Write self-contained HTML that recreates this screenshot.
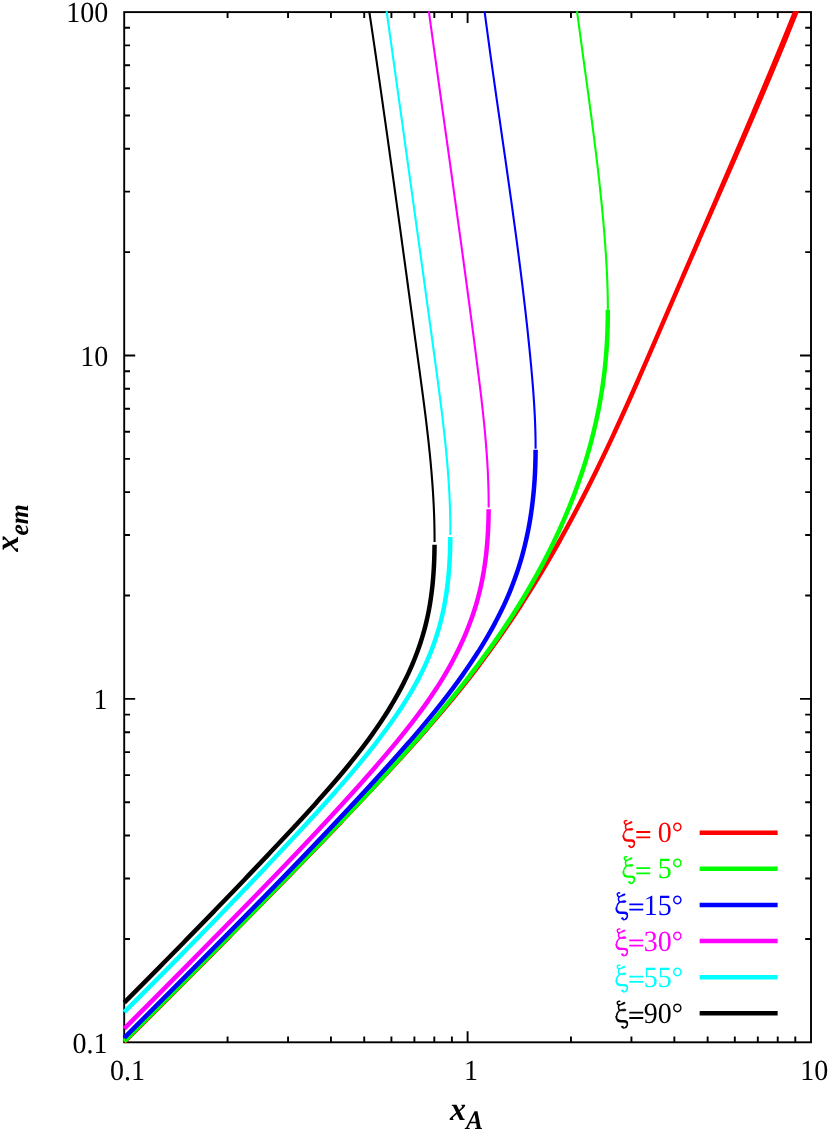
<!DOCTYPE html>
<html>
<head>
<meta charset="utf-8">
<title>x_em vs x_A</title>
<style>
html,body{margin:0;padding:0;background:#fff;}
body{width:830px;height:1131px;overflow:hidden;}
svg{display:block;will-change:transform;}
text{font-family:"Liberation Serif",serif;font-size:28px;fill:#000;text-rendering:geometricPrecision;}
text.ax{font-weight:bold;font-style:italic;font-size:32px;}
</style>
</head>
<body>
<svg width="830" height="1131" viewBox="0 0 830 1131">
<rect width="830" height="1131" fill="#ffffff"/>
<g stroke="#000" stroke-width="1.9" fill="none" stroke-linecap="butt" stroke-linejoin="miter"><rect x="124.2" y="12.1" width="686.8" height="1030.2" fill="none"/><path d="M227.57,1042.3v-5.8M227.57,12.1v5.8M288.04,1042.3v-5.8M288.04,12.1v5.8M330.95,1042.3v-5.8M330.95,12.1v5.8M364.23,1042.3v-5.8M364.23,12.1v5.8M391.42,1042.3v-5.8M391.42,12.1v5.8M414.41,1042.3v-5.8M414.41,12.1v5.8M434.32,1042.3v-5.8M434.32,12.1v5.8M451.89,1042.3v-5.8M451.89,12.1v5.8M467.6,1042.3v-11.0M467.6,12.1v11.0M570.97,1042.3v-5.8M570.97,12.1v5.8M631.44,1042.3v-5.8M631.44,12.1v5.8M674.35,1042.3v-5.8M674.35,12.1v5.8M707.63,1042.3v-5.8M707.63,12.1v5.8M734.82,1042.3v-5.8M734.82,12.1v5.8M757.81,1042.3v-5.8M757.81,12.1v5.8M777.72,1042.3v-5.8M777.72,12.1v5.8M795.29,1042.3v-5.8M795.29,12.1v5.8M124.2,938.93h5.8M811,938.93h-5.8M124.2,878.46h5.8M811,878.46h-5.8M124.2,835.55h5.8M811,835.55h-5.8M124.2,802.27h5.8M811,802.27h-5.8M124.2,775.08h5.8M811,775.08h-5.8M124.2,752.09h5.8M811,752.09h-5.8M124.2,732.18h5.8M811,732.18h-5.8M124.2,714.61h5.8M811,714.61h-5.8M124.2,698.9h11.0M811,698.9h-11.0M124.2,595.53h5.8M811,595.53h-5.8M124.2,535.06h5.8M811,535.06h-5.8M124.2,492.15h5.8M811,492.15h-5.8M124.2,458.87h5.8M811,458.87h-5.8M124.2,431.68h5.8M811,431.68h-5.8M124.2,408.69h5.8M811,408.69h-5.8M124.2,388.78h5.8M811,388.78h-5.8M124.2,371.21h5.8M811,371.21h-5.8M124.2,355.5h11.0M811,355.5h-11.0M124.2,252.13h5.8M811,252.13h-5.8M124.2,191.66h5.8M811,191.66h-5.8M124.2,148.75h5.8M811,148.75h-5.8M124.2,115.47h5.8M811,115.47h-5.8M124.2,88.28h5.8M811,88.28h-5.8M124.2,65.29h5.8M811,65.29h-5.8M124.2,45.38h5.8M811,45.38h-5.8M124.2,27.81h5.8M811,27.81h-5.8"/></g>
<defs><clipPath id="cl"><rect x="116.2" y="11.15" width="702.8" height="1040.2"/></clipPath></defs>
<g clip-path="url(#cl)">
<path d="M799.95,9.06 L798.75,12.06 L797.54,15.07 L796.33,18.08 L795.12,21.09 L793.91,24.10 L792.69,27.10 L791.47,30.11 L790.25,33.12 L789.02,36.13 L787.80,39.14 L786.57,42.14 L785.33,45.15 L784.10,48.16 L782.86,51.17 L781.62,54.17 L780.37,57.18 L779.13,60.19 L777.88,63.20 L776.62,66.20 L775.36,69.21 L774.10,72.21 L772.84,75.22 L771.58,78.22 L770.31,81.23 L769.04,84.23 L767.77,87.24 L766.50,90.24 L765.22,93.24 L763.95,96.25 L762.67,99.25 L761.39,102.26 L760.10,105.26 L758.82,108.27 L757.54,111.27 L756.25,114.28 L754.96,117.28 L753.67,120.28 L752.38,123.29 L751.09,126.29 L749.79,129.30 L748.50,132.30 L747.20,135.30 L745.89,138.31 L744.59,141.31 L743.29,144.31 L741.98,147.31 L740.67,150.32 L739.37,153.32 L738.06,156.32 L736.75,159.32 L735.44,162.32 L734.13,165.33 L732.81,168.33 L731.50,171.33 L730.19,174.33 L728.87,177.33 L727.56,180.34 L726.24,183.34 L724.92,186.34 L723.61,189.34 L722.29,192.34 L720.97,195.35 L719.65,198.35 L718.33,201.35 L717.02,204.35 L715.70,207.35 L714.38,210.36 L713.06,213.36 L711.74,216.36 L710.42,219.36 L709.10,222.36 L707.78,225.37 L706.46,228.37 L705.14,231.37 L703.82,234.37 L702.50,237.37 L701.18,240.37 L699.86,243.38 L698.54,246.38 L697.22,249.38 L695.91,252.38 L694.59,255.38 L693.27,258.38 L691.96,261.39 L690.65,264.39 L689.34,267.40 L688.04,270.40 L686.73,273.41 L685.42,276.41 L684.12,279.42 L682.82,282.42 L681.51,285.43 L680.21,288.43 L678.91,291.44 L677.61,294.45 L676.31,297.45 L675.01,300.46 L673.72,303.46 L672.42,306.47 L671.12,309.47 L669.83,312.48 L668.54,315.48 L667.24,318.49 L665.95,321.49 L664.65,324.50 L663.36,327.51 L662.06,330.51 L660.77,333.52 L659.47,336.52 L658.18,339.53 L656.88,342.54 L655.58,345.54 L654.28,348.55 L652.98,351.56 L651.68,354.56 L650.38,357.57 L649.07,360.58 L647.77,363.58 L646.46,366.59 L645.14,369.60 L643.83,372.60 L642.51,375.61 L641.20,378.62 L639.87,381.63 L638.55,384.63 L637.22,387.64 L635.89,390.65 L634.56,393.66 L633.22,396.67 L631.88,399.67 L630.53,402.68 L629.18,405.69 L627.83,408.70 L626.47,411.71 L625.11,414.71 L623.74,417.72 L622.37,420.73 L621.00,423.74 L619.62,426.75 L618.23,429.76 L616.84,432.77 L615.44,435.77 L614.04,438.78 L612.63,441.79 L611.22,444.80 L609.80,447.81 L608.37,450.82 L606.94,453.83 L605.50,456.84 L604.06,459.85 L602.61,462.86 L601.15,465.87 L599.68,468.88 L598.21,471.89 L596.73,474.90 L595.24,477.91 L593.75,480.92 L592.25,483.93 L590.73,486.94 L589.22,489.95 L587.69,492.96 L586.15,495.97 L584.61,498.98 L583.06,501.99 L581.50,505.00 L579.93,508.01 L578.35,511.02 L576.76,514.03 L575.16,517.04 L573.55,520.05 L571.94,523.06 L570.31,526.07 L568.67,529.08 L567.03,532.09 L565.37,535.10 L563.70,538.12 L562.03,541.13 L560.34,544.14 L558.64,547.15 L556.93,550.16 L555.21,553.17 L553.47,556.18 L551.73,559.19 L549.98,562.21 L548.21,565.22 L546.43,568.23 L544.64,571.24 L542.84,574.25 L541.02,577.26 L539.19,580.27 L537.35,583.29 L535.50,586.30 L533.63,589.31 L531.75,592.32 L529.86,595.33 L527.96,598.35 L526.04,601.36 L524.11,604.37 L522.16,607.38 L520.20,610.39 L518.23,613.41 L516.24,616.42 L514.23,619.43 L512.21,622.44 L510.18,625.45 L508.13,628.47 L506.07,631.48 L503.99,634.49 L501.89,637.50 L499.78,640.52 L497.65,643.53 L495.51,646.54 L493.35,649.55 L491.17,652.57 L488.97,655.58 L486.76,658.59 L484.53,661.60 L482.28,664.62 L480.02,667.63 L477.73,670.64 L475.43,673.65 L473.11,676.67 L470.77,679.68 L468.41,682.69 L466.03,685.71 L463.63,688.72 L461.21,691.73 L458.78,694.74 L456.32,697.76 L453.85,700.77 L451.35,703.78 L448.84,706.79 L446.32,709.80 L443.77,712.82 L441.21,715.83 L438.63,718.84 L436.04,721.85 L433.44,724.86 L430.82,727.87 L428.18,730.88 L425.53,733.89 L422.87,736.90 L420.20,739.91 L417.52,742.92 L414.82,745.93 L412.11,748.94 L409.39,751.95 L406.67,754.95 L403.93,757.96 L401.18,760.97 L398.43,763.98 L395.66,766.99 L392.89,770.00 L390.12,773.00 L387.33,776.01 L384.54,779.02 L381.74,782.03 L378.94,785.03 L376.14,788.04 L373.32,791.05 L370.51,794.06 L367.68,797.06 L364.86,800.07 L362.02,803.08 L359.19,806.09 L356.35,809.09 L353.50,812.10 L350.65,815.11 L347.79,818.11 L344.93,821.12 L342.07,824.13 L339.20,827.14 L336.33,830.14 L333.45,833.15 L330.57,836.16 L327.68,839.16 L324.79,842.17 L321.90,845.18 L319.00,848.18 L316.10,851.19 L313.20,854.20 L310.29,857.20 L307.38,860.21 L304.47,863.22 L301.55,866.22 L298.63,869.23 L295.70,872.24 L292.78,875.24 L289.85,878.25 L286.91,881.26 L283.98,884.26 L281.04,887.27 L278.10,890.28 L275.15,893.28 L272.21,896.29 L269.26,899.30 L266.31,902.30 L263.36,905.31 L260.40,908.32 L257.44,911.32 L254.48,914.33 L251.52,917.34 L248.56,920.34 L245.59,923.35 L242.62,926.35 L239.66,929.36 L236.69,932.37 L233.71,935.37 L230.74,938.38 L227.77,941.39 L224.79,944.39 L221.81,947.40 L218.83,950.40 L215.85,953.41 L212.87,956.42 L209.89,959.42 L206.91,962.43 L203.93,965.43 L200.94,968.44 L197.96,971.45 L194.97,974.45 L191.99,977.46 L189.00,980.46 L186.01,983.47 L183.02,986.48 L180.03,989.48 L177.03,992.49 L174.04,995.50 L171.04,998.50 L168.04,1001.51 L165.04,1004.51 L162.03,1007.52 L159.03,1010.53 L156.02,1013.53 L153.01,1016.54 L149.99,1019.55 L146.98,1022.55 L143.96,1025.56 L140.94,1028.57 L137.92,1031.57 L134.89,1034.58 L131.86,1037.59 L128.83,1040.59 L125.79,1043.60 L122.63,1040.40 L125.66,1037.40 L128.69,1034.39 L131.72,1031.39 L134.75,1028.38 L137.77,1025.38 L140.79,1022.37 L143.80,1019.37 L146.82,1016.36 L149.83,1013.36 L152.84,1010.35 L155.84,1007.34 L158.85,1004.34 L161.85,1001.33 L164.85,998.33 L167.85,995.32 L170.85,992.32 L173.84,989.31 L176.84,986.31 L179.83,983.30 L182.82,980.30 L185.81,977.29 L188.80,974.29 L191.78,971.28 L194.77,968.28 L197.75,965.27 L200.73,962.26 L203.72,959.26 L206.70,956.25 L209.68,953.25 L212.66,950.24 L215.64,947.24 L218.62,944.23 L221.59,941.23 L224.57,938.22 L227.54,935.21 L230.51,932.21 L233.48,929.20 L236.45,926.20 L239.42,923.19 L242.39,920.19 L245.35,917.18 L248.32,914.18 L251.28,911.17 L254.23,908.17 L257.19,905.16 L260.15,902.16 L263.10,899.15 L266.05,896.15 L268.99,893.14 L271.94,890.13 L274.88,887.13 L277.82,884.12 L280.76,881.12 L283.69,878.11 L286.62,875.11 L289.55,872.10 L292.48,869.10 L295.40,866.09 L298.32,863.09 L301.24,860.08 L304.15,857.08 L307.06,854.07 L309.96,851.07 L312.86,848.07 L315.76,845.06 L318.66,842.06 L321.55,839.05 L324.44,836.05 L327.32,833.04 L330.20,830.04 L333.07,827.03 L335.94,824.03 L338.81,821.02 L341.67,818.02 L344.53,815.01 L347.38,812.01 L350.23,809.00 L353.08,806.00 L355.92,803.00 L358.75,799.99 L361.58,796.99 L364.40,793.98 L367.22,790.98 L370.04,787.97 L372.85,784.97 L375.65,781.97 L378.45,778.96 L381.24,775.96 L384.03,772.95 L386.81,769.95 L389.59,766.95 L392.35,763.94 L395.11,760.94 L397.86,757.94 L400.60,754.93 L403.33,751.93 L406.06,748.93 L408.77,745.92 L411.47,742.92 L414.16,739.92 L416.84,736.92 L419.51,733.91 L422.16,730.91 L424.80,727.91 L427.43,724.91 L430.04,721.91 L432.64,718.91 L435.22,715.91 L437.79,712.91 L440.34,709.91 L442.87,706.91 L445.39,703.91 L447.89,700.91 L450.38,697.91 L452.84,694.91 L455.28,691.91 L457.71,688.91 L460.12,685.91 L462.50,682.91 L464.87,679.91 L467.22,676.91 L469.55,673.91 L471.86,670.92 L474.15,667.92 L476.42,664.92 L478.68,661.92 L480.92,658.92 L483.14,655.92 L485.34,652.92 L487.53,649.92 L489.70,646.92 L491.85,643.92 L493.98,640.93 L496.10,637.93 L498.20,634.93 L500.29,631.93 L502.36,628.93 L504.42,625.93 L506.46,622.93 L508.48,619.93 L510.49,616.93 L512.49,613.93 L514.47,610.93 L516.43,607.93 L518.38,604.93 L520.32,601.93 L522.25,598.93 L524.16,595.93 L526.06,592.93 L527.94,589.93 L529.81,586.93 L531.67,583.93 L533.52,580.93 L535.35,577.93 L537.17,574.93 L538.98,571.93 L540.77,568.93 L542.56,565.93 L544.33,562.93 L546.09,559.93 L547.84,556.93 L549.58,553.93 L551.30,550.93 L553.02,547.93 L554.72,544.93 L556.42,541.93 L558.10,538.93 L559.77,535.93 L561.43,532.93 L563.08,529.93 L564.72,526.93 L566.35,523.93 L567.98,520.93 L569.59,517.93 L571.19,514.93 L572.78,511.92 L574.36,508.92 L575.94,505.92 L577.50,502.92 L579.06,499.92 L580.61,496.92 L582.15,493.92 L583.68,490.92 L585.20,487.91 L586.71,484.91 L588.22,481.91 L589.72,478.91 L591.21,475.91 L592.69,472.91 L594.17,469.90 L595.64,466.90 L597.10,463.90 L598.56,460.90 L600.00,457.90 L601.45,454.89 L602.88,451.89 L604.31,448.89 L605.73,445.89 L607.15,442.88 L608.56,439.88 L609.96,436.88 L611.36,433.88 L612.76,430.87 L614.15,427.87 L615.53,424.87 L616.91,421.87 L618.28,418.86 L619.65,415.86 L621.01,412.86 L622.37,409.85 L623.73,406.85 L625.08,403.85 L626.43,400.84 L627.77,397.84 L629.11,394.83 L630.44,391.83 L631.78,388.83 L633.11,385.82 L634.43,382.82 L635.75,379.81 L637.08,376.81 L638.39,373.81 L639.71,370.80 L641.02,367.80 L642.33,364.79 L643.64,361.79 L644.95,358.78 L646.25,355.78 L647.55,352.77 L648.85,349.77 L650.15,346.76 L651.45,343.76 L652.75,340.75 L654.05,337.75 L655.34,334.74 L656.64,331.74 L657.93,328.73 L659.23,325.73 L660.52,322.72 L661.81,319.71 L663.11,316.71 L664.40,313.70 L665.70,310.70 L666.99,307.69 L668.29,304.68 L669.58,301.68 L670.88,298.67 L672.18,295.67 L673.48,292.66 L674.78,289.65 L676.08,286.65 L677.38,283.64 L678.69,280.63 L679.99,277.63 L681.30,274.62 L682.60,271.62 L683.91,268.61 L685.21,265.60 L686.52,262.60 L687.83,259.59 L689.13,256.58 L690.43,253.57 L691.73,250.56 L693.03,247.55 L694.33,244.54 L695.63,241.53 L696.93,238.52 L698.23,235.51 L699.53,232.50 L700.83,229.49 L702.14,226.48 L703.44,223.47 L704.74,220.46 L706.04,217.45 L707.34,214.44 L708.64,211.43 L709.94,208.42 L711.24,205.41 L712.54,202.40 L713.84,199.39 L715.14,196.38 L716.44,193.37 L717.74,190.36 L719.04,187.36 L720.33,184.35 L721.63,181.34 L722.93,178.33 L724.22,175.32 L725.52,172.31 L726.81,169.30 L728.10,166.29 L729.40,163.28 L730.69,160.27 L731.98,157.26 L733.27,154.25 L734.55,151.24 L735.84,148.23 L737.13,145.22 L738.41,142.21 L739.70,139.20 L740.98,136.19 L742.26,133.18 L743.54,130.18 L744.82,127.17 L746.10,124.16 L747.38,121.15 L748.66,118.15 L749.94,115.14 L751.22,112.13 L752.49,109.12 L753.76,106.12 L755.03,103.11 L756.30,100.10 L757.57,97.10 L758.83,94.09 L760.10,91.08 L761.36,88.07 L762.62,85.07 L763.88,82.06 L765.13,79.05 L766.39,76.05 L767.64,73.04 L768.89,70.03 L770.13,67.03 L771.38,64.02 L772.62,61.01 L773.86,58.01 L775.11,55.00 L776.35,52.00 L777.59,49.00 L778.82,45.99 L780.06,42.99 L781.29,39.98 L782.52,36.98 L783.75,33.98 L784.97,30.97 L786.19,27.97 L787.41,24.96 L788.62,21.96 L789.84,18.96 L791.05,15.95 L792.25,12.95 L793.46,9.95 L794.66,6.94Z" fill="#ff0000" stroke="none"/>
<path d="M607.85,309.70 L607.84,312.71 L607.82,315.72 L607.78,318.73 L607.73,321.74 L607.66,324.75 L607.58,327.76 L607.49,330.77 L607.37,333.79 L607.24,336.80 L607.10,339.81 L606.93,342.82 L606.75,345.83 L606.56,348.84 L606.34,351.85 L606.11,354.86 L605.85,357.87 L605.58,360.88 L605.29,363.89 L604.98,366.90 L604.65,369.91 L604.31,372.92 L603.94,375.94 L603.55,378.95 L603.15,381.96 L602.73,384.97 L602.28,387.98 L601.82,390.99 L601.34,394.00 L600.84,397.01 L600.32,400.02 L599.78,403.03 L599.22,406.04 L598.64,409.05 L598.04,412.06 L597.43,415.07 L596.79,418.09 L596.14,421.10 L595.46,424.11 L594.77,427.12 L594.06,430.13 L593.33,433.14 L592.57,436.15 L591.80,439.16 L591.01,442.17 L590.20,445.18 L589.37,448.19 L588.52,451.20 L587.66,454.21 L586.77,457.22 L585.86,460.23 L584.94,463.25 L583.99,466.26 L583.02,469.27 L582.04,472.28 L581.03,475.29 L580.01,478.30 L578.97,481.31 L577.90,484.32 L576.82,487.33 L575.72,490.34 L574.60,493.35 L573.45,496.36 L572.29,499.37 L571.11,502.38 L569.91,505.40 L568.69,508.41 L567.45,511.42 L566.19,514.43 L564.91,517.44 L563.61,520.45 L562.29,523.46 L560.96,526.47 L559.60,529.48 L558.22,532.49 L556.82,535.50 L555.40,538.51 L553.97,541.52 L552.51,544.53 L551.03,547.55 L549.53,550.56 L548.02,553.57 L546.48,556.58 L544.92,559.59 L543.35,562.60 L541.75,565.61 L540.13,568.62 L538.50,571.63 L536.84,574.64 L535.17,577.65 L533.47,580.66 L531.75,583.67 L530.02,586.68 L528.26,589.70 L526.48,592.71 L524.69,595.72 L522.87,598.73 L521.03,601.74 L519.18,604.75 L517.30,607.76 L515.40,610.77 L513.49,613.78 L511.55,616.79 L509.59,619.80 L507.62,622.81 L505.62,625.82 L503.60,628.83 L501.56,631.84 L499.50,634.86 L497.43,637.87 L495.33,640.88 L493.21,643.89 L491.08,646.90 L488.92,649.91 L486.74,652.92 L484.55,655.93 L482.34,658.94 L480.11,661.95 L477.86,664.96 L475.59,667.97 L473.31,670.98 L471.01,673.99 L468.69,677.01 L466.35,680.02 L463.99,683.03 L461.62,686.04 L459.23,689.05 L456.83,692.06 L454.41,695.07 L451.97,698.08 L449.52,701.09 L447.05,704.10 L444.56,707.11 L442.06,710.12 L439.54,713.13 L437.01,716.14 L434.47,719.16 L431.91,722.17 L429.33,725.18 L426.74,728.19 L424.14,731.20 L421.52,734.21 L418.89,737.22 L416.25,740.23 L413.59,743.24 L410.92,746.25 L408.24,749.26 L405.55,752.27 L402.85,755.28 L400.13,758.29 L397.40,761.30 L394.67,764.32 L391.92,767.33 L389.16,770.34 L386.40,773.35 L383.62,776.36 L380.84,779.37 L378.04,782.38 L375.24,785.39 L372.43,788.40 L369.61,791.41 L366.79,794.42 L363.95,797.43 L361.11,800.44 L358.27,803.45 L355.41,806.47 L352.56,809.48 L349.69,812.49 L346.82,815.50 L343.95,818.51 L341.06,821.52 L338.18,824.53 L335.29,827.54 L332.40,830.55 L329.50,833.56 L326.60,836.57 L323.70,839.58 L320.79,842.59 L317.88,845.60 L314.97,848.62 L312.06,851.63 L309.14,854.64 L306.22,857.65 L303.30,860.66 L300.38,863.67 L297.45,866.68 L294.52,869.69 L291.59,872.70 L288.66,875.71 L285.72,878.72 L282.78,881.73 L279.84,884.74 L276.90,887.75 L273.95,890.77 L271.00,893.78 L268.05,896.79 L265.10,899.80 L262.15,902.81 L259.19,905.82 L256.23,908.83 L253.27,911.84 L250.30,914.85 L247.34,917.86 L244.37,920.87 L241.40,923.88 L238.43,926.89 L235.45,929.90 L232.48,932.91 L229.50,935.93 L226.52,938.94 L223.54,941.95 L220.55,944.96 L217.57,947.97 L214.58,950.98 L211.59,953.99 L208.60,957.00 L205.61,960.01 L202.61,963.02 L199.62,966.03 L196.62,969.04 L193.62,972.05 L190.62,975.06 L187.61,978.08 L184.61,981.09 L181.60,984.10 L178.59,987.11 L175.58,990.12 L172.57,993.13 L169.56,996.14 L166.54,999.15 L163.53,1002.16 L160.51,1005.17 L157.49,1008.18 L154.47,1011.19 L151.45,1014.20 L148.43,1017.21 L145.41,1020.23 L142.38,1023.24 L139.35,1026.25 L136.33,1029.26 L133.30,1032.27 L130.27,1035.28 L127.23,1038.29 L124.20,1041.30" fill="none" stroke="#00ff00" stroke-width="4.5"/>
<path d="M576.64,8.00 L577.03,11.02 L577.42,14.03 L577.82,17.05 L578.22,20.07 L578.62,23.09 L579.02,26.10 L579.42,29.12 L579.83,32.14 L580.23,35.15 L580.64,38.17 L581.05,41.19 L581.46,44.20 L581.87,47.22 L582.28,50.24 L582.69,53.25 L583.10,56.27 L583.51,59.29 L583.93,62.31 L584.34,65.32 L584.75,68.34 L585.17,71.36 L585.58,74.37 L585.99,77.39 L586.41,80.41 L586.82,83.42 L587.23,86.44 L587.64,89.46 L588.05,92.48 L588.46,95.49 L588.87,98.51 L589.28,101.53 L589.68,104.54 L590.09,107.56 L590.49,110.58 L590.90,113.59 L591.30,116.61 L591.69,119.63 L592.09,122.65 L592.49,125.66 L592.88,128.68 L593.27,131.70 L593.66,134.71 L594.04,137.73 L594.42,140.75 L594.80,143.76 L595.18,146.78 L595.56,149.80 L595.93,152.82 L596.30,155.83 L596.66,158.85 L597.02,161.87 L597.38,164.88 L597.74,167.90 L598.09,170.92 L598.43,173.94 L598.78,176.95 L599.12,179.97 L599.45,182.99 L599.78,186.00 L600.11,189.02 L600.43,192.04 L600.75,195.05 L601.06,198.07 L601.37,201.09 L601.67,204.10 L601.97,207.12 L602.26,210.14 L602.55,213.16 L602.83,216.17 L603.11,219.19 L603.38,222.21 L603.64,225.22 L603.90,228.24 L604.15,231.26 L604.40,234.28 L604.64,237.29 L604.88,240.31 L605.10,243.33 L605.33,246.34 L605.54,249.36 L605.75,252.38 L605.95,255.39 L606.14,258.41 L606.32,261.43 L606.49,264.44 L606.66,267.46 L606.82,270.48 L606.96,273.50 L607.10,276.51 L607.22,279.53 L607.34,282.55 L607.44,285.56 L607.54,288.58 L607.62,291.60 L607.69,294.62 L607.75,297.63 L607.79,300.65 L607.82,303.67 L607.84,306.68 L607.85,309.70" fill="none" stroke="#00ff00" stroke-width="2.1"/>
<path d="M535.59,449.80 L535.57,452.80 L535.53,455.80 L535.48,458.80 L535.41,461.80 L535.32,464.80 L535.21,467.80 L535.09,470.80 L534.95,473.80 L534.78,476.80 L534.60,479.81 L534.40,482.81 L534.17,485.81 L533.93,488.81 L533.66,491.81 L533.37,494.81 L533.06,497.81 L532.73,500.81 L532.38,503.81 L532.00,506.81 L531.59,509.81 L531.17,512.81 L530.71,515.81 L530.24,518.81 L529.73,521.81 L529.20,524.81 L528.65,527.81 L528.07,530.81 L527.46,533.81 L526.82,536.81 L526.16,539.82 L525.46,542.82 L524.74,545.82 L523.99,548.82 L523.21,551.82 L522.40,554.82 L521.56,557.82 L520.69,560.82 L519.78,563.82 L518.85,566.82 L517.88,569.82 L516.88,572.82 L515.85,575.82 L514.78,578.82 L513.68,581.82 L512.55,584.82 L511.38,587.82 L510.18,590.82 L508.94,593.82 L507.67,596.83 L506.36,599.83 L505.01,602.83 L503.62,605.83 L502.21,608.83 L500.75,611.83 L499.26,614.83 L497.74,617.83 L496.18,620.83 L494.58,623.83 L492.96,626.83 L491.30,629.83 L489.60,632.83 L487.88,635.83 L486.12,638.83 L484.33,641.83 L482.51,644.83 L480.66,647.83 L478.78,650.83 L476.87,653.83 L474.92,656.84 L472.95,659.84 L470.95,662.84 L468.92,665.84 L466.86,668.84 L464.78,671.84 L462.66,674.84 L460.52,677.84 L458.36,680.84 L456.16,683.84 L453.94,686.84 L451.69,689.84 L449.42,692.84 L447.13,695.84 L444.81,698.84 L442.46,701.84 L440.10,704.84 L437.71,707.84 L435.30,710.84 L432.87,713.84 L430.42,716.85 L427.94,719.85 L425.45,722.85 L422.94,725.85 L420.42,728.85 L417.87,731.85 L415.31,734.85 L412.73,737.85 L410.14,740.85 L407.53,743.85 L404.91,746.85 L402.28,749.85 L399.63,752.85 L396.97,755.85 L394.30,758.85 L391.61,761.85 L388.92,764.85 L386.21,767.85 L383.50,770.85 L380.78,773.86 L378.05,776.86 L375.31,779.86 L372.57,782.86 L369.82,785.86 L367.06,788.86 L364.30,791.86 L361.53,794.86 L358.75,797.86 L355.97,800.86 L353.18,803.86 L350.38,806.86 L347.58,809.86 L344.77,812.86 L341.96,815.86 L339.14,818.86 L336.32,821.86 L333.49,824.86 L330.65,827.86 L327.81,830.86 L324.97,833.87 L322.12,836.87 L319.26,839.87 L316.40,842.87 L313.54,845.87 L310.67,848.87 L307.79,851.87 L304.91,854.87 L302.03,857.87 L299.14,860.87 L296.25,863.87 L293.35,866.87 L290.45,869.87 L287.55,872.87 L284.64,875.87 L281.72,878.87 L278.81,881.87 L275.89,884.87 L272.96,887.87 L270.04,890.88 L267.11,893.88 L264.17,896.88 L261.23,899.88 L258.29,902.88 L255.35,905.88 L252.41,908.88 L249.46,911.88 L246.50,914.88 L243.55,917.88 L240.59,920.88 L237.63,923.88 L234.67,926.88 L231.71,929.88 L228.74,932.88 L225.77,935.88 L222.80,938.88 L219.83,941.88 L216.85,944.88 L213.88,947.88 L210.90,950.89 L207.92,953.89 L204.94,956.89 L201.96,959.89 L198.98,962.89 L195.99,965.89 L193.00,968.89 L190.02,971.89 L187.03,974.89 L184.04,977.89 L181.05,980.89 L178.06,983.89 L175.07,986.89 L172.08,989.89 L169.09,992.89 L166.10,995.89 L163.11,998.89 L160.11,1001.89 L157.12,1004.89 L154.13,1007.89 L151.14,1010.90 L148.15,1013.90 L145.15,1016.90 L142.16,1019.90 L139.17,1022.90 L136.18,1025.90 L133.20,1028.90 L130.21,1031.90 L127.22,1034.90 L124.23,1037.90" fill="none" stroke="#0000ff" stroke-width="4.5"/>
<path d="M484.16,8.00 L484.55,11.02 L484.94,14.04 L485.34,17.06 L485.74,20.07 L486.14,23.09 L486.54,26.11 L486.95,29.13 L487.36,32.15 L487.76,35.17 L488.17,38.18 L488.58,41.20 L489.00,44.22 L489.41,47.24 L489.83,50.26 L490.24,53.28 L490.66,56.30 L491.08,59.31 L491.50,62.33 L491.92,65.35 L492.35,68.37 L492.77,71.39 L493.19,74.41 L493.62,77.43 L494.05,80.44 L494.47,83.46 L494.90,86.48 L495.33,89.50 L495.76,92.52 L496.19,95.54 L496.62,98.55 L497.06,101.57 L497.49,104.59 L497.92,107.61 L498.35,110.63 L498.79,113.65 L499.22,116.67 L499.66,119.68 L500.09,122.70 L500.52,125.72 L500.96,128.74 L501.39,131.76 L501.83,134.78 L502.26,137.80 L502.70,140.81 L503.13,143.83 L503.56,146.85 L504.00,149.87 L504.43,152.89 L504.86,155.91 L505.30,158.92 L505.73,161.94 L506.16,164.96 L506.59,167.98 L507.02,171.00 L507.45,174.02 L507.88,177.04 L508.31,180.05 L508.74,183.07 L509.16,186.09 L509.59,189.11 L510.01,192.13 L510.44,195.15 L510.86,198.17 L511.28,201.18 L511.70,204.20 L512.12,207.22 L512.54,210.24 L512.95,213.26 L513.37,216.28 L513.78,219.29 L514.20,222.31 L514.61,225.33 L515.01,228.35 L515.42,231.37 L515.83,234.39 L516.23,237.41 L516.63,240.42 L517.03,243.44 L517.43,246.46 L517.83,249.48 L518.22,252.50 L518.62,255.52 L519.01,258.53 L519.39,261.55 L519.78,264.57 L520.16,267.59 L520.54,270.61 L520.92,273.63 L521.30,276.65 L521.67,279.66 L522.05,282.68 L522.42,285.70 L522.78,288.72 L523.15,291.74 L523.51,294.76 L523.87,297.78 L524.22,300.79 L524.57,303.81 L524.92,306.83 L525.27,309.85 L525.61,312.87 L525.95,315.89 L526.29,318.90 L526.63,321.92 L526.96,324.94 L527.29,327.96 L527.61,330.98 L527.93,334.00 L528.25,337.02 L528.56,340.03 L528.88,343.05 L529.18,346.07 L529.49,349.09 L529.79,352.11 L530.08,355.13 L530.38,358.15 L530.66,361.16 L530.95,364.18 L531.23,367.20 L531.50,370.22 L531.77,373.24 L532.04,376.26 L532.30,379.27 L532.55,382.29 L532.79,385.31 L533.03,388.33 L533.26,391.35 L533.48,394.37 L533.69,397.39 L533.90,400.40 L534.09,403.42 L534.28,406.44 L534.45,409.46 L534.61,412.48 L534.77,415.50 L534.91,418.52 L535.04,421.53 L535.15,424.55 L535.26,427.57 L535.35,430.59 L535.42,433.61 L535.49,436.63 L535.54,439.64 L535.57,442.66 L535.59,445.68 L535.59,448.70" fill="none" stroke="#0000ff" stroke-width="2.1"/>
<path d="M488.65,509.20 L488.62,512.20 L488.57,515.20 L488.51,518.21 L488.42,521.21 L488.32,524.21 L488.20,527.21 L488.06,530.22 L487.90,533.22 L487.72,536.22 L487.52,539.22 L487.29,542.23 L487.04,545.23 L486.77,548.23 L486.47,551.23 L486.14,554.23 L485.79,557.24 L485.41,560.24 L485.00,563.24 L484.56,566.24 L484.09,569.25 L483.60,572.25 L483.07,575.25 L482.51,578.25 L481.91,581.26 L481.28,584.26 L480.62,587.26 L479.93,590.26 L479.19,593.26 L478.42,596.27 L477.62,599.27 L476.77,602.27 L475.89,605.27 L474.97,608.28 L474.01,611.28 L473.01,614.28 L471.98,617.28 L470.91,620.29 L469.79,623.29 L468.65,626.29 L467.46,629.29 L466.23,632.29 L464.97,635.30 L463.67,638.30 L462.33,641.30 L460.95,644.30 L459.54,647.31 L458.09,650.31 L456.60,653.31 L455.07,656.31 L453.51,659.32 L451.90,662.32 L450.26,665.32 L448.59,668.32 L446.87,671.32 L445.12,674.33 L443.33,677.33 L441.50,680.33 L439.64,683.33 L437.74,686.34 L435.80,689.34 L433.82,692.34 L431.81,695.34 L429.76,698.35 L427.68,701.35 L425.56,704.35 L423.41,707.35 L421.23,710.35 L419.01,713.36 L416.77,716.36 L414.50,719.36 L412.20,722.36 L409.87,725.37 L407.52,728.37 L405.14,731.37 L402.74,734.37 L400.31,737.38 L397.86,740.38 L395.39,743.38 L392.90,746.38 L390.38,749.38 L387.85,752.39 L385.30,755.39 L382.74,758.39 L380.16,761.39 L377.56,764.40 L374.95,767.40 L372.32,770.40 L369.69,773.40 L367.04,776.41 L364.38,779.41 L361.71,782.41 L359.03,785.41 L356.34,788.42 L353.65,791.42 L350.94,794.42 L348.23,797.42 L345.51,800.42 L342.78,803.43 L340.04,806.43 L337.29,809.43 L334.53,812.43 L331.77,815.44 L329.00,818.44 L326.22,821.44 L323.44,824.44 L320.64,827.45 L317.84,830.45 L315.04,833.45 L312.22,836.45 L309.40,839.45 L306.58,842.46 L303.74,845.46 L300.90,848.46 L298.06,851.46 L295.21,854.47 L292.35,857.47 L289.49,860.47 L286.62,863.47 L283.74,866.48 L280.87,869.48 L277.98,872.48 L275.09,875.48 L272.20,878.48 L269.30,881.49 L266.40,884.49 L263.49,887.49 L260.58,890.49 L257.67,893.50 L254.75,896.50 L251.83,899.50 L248.90,902.50 L245.97,905.51 L243.04,908.51 L240.10,911.51 L237.16,914.51 L234.22,917.51 L231.28,920.52 L228.33,923.52 L225.38,926.52 L222.43,929.52 L219.48,932.53 L216.53,935.53 L213.57,938.53 L210.61,941.53 L207.65,944.54 L204.69,947.54 L201.73,950.54 L198.76,953.54 L195.80,956.54 L192.83,959.55 L189.87,962.55 L186.90,965.55 L183.94,968.55 L180.97,971.56 L178.00,974.56 L175.03,977.56 L172.06,980.56 L169.08,983.57 L166.11,986.57 L163.13,989.57 L160.16,992.57 L157.18,995.57 L154.20,998.58 L151.21,1001.58 L148.23,1004.58 L145.24,1007.58 L142.25,1010.59 L139.25,1013.59 L136.26,1016.59 L133.26,1019.59 L130.26,1022.60 L127.25,1025.60 L124.24,1028.60" fill="none" stroke="#ff00ff" stroke-width="4.5"/>
<path d="M428.40,8.00 L428.81,11.01 L429.22,14.02 L429.64,17.03 L430.05,20.04 L430.46,23.05 L430.88,26.05 L431.29,29.06 L431.71,32.07 L432.12,35.08 L432.54,38.09 L432.96,41.10 L433.37,44.11 L433.79,47.12 L434.21,50.13 L434.62,53.14 L435.04,56.14 L435.46,59.15 L435.88,62.16 L436.29,65.17 L436.71,68.18 L437.13,71.19 L437.55,74.20 L437.97,77.21 L438.39,80.22 L438.81,83.23 L439.23,86.23 L439.65,89.24 L440.07,92.25 L440.49,95.26 L440.91,98.27 L441.33,101.28 L441.75,104.29 L442.17,107.30 L442.59,110.31 L443.01,113.32 L443.43,116.33 L443.85,119.33 L444.27,122.34 L444.69,125.35 L445.11,128.36 L445.53,131.37 L445.95,134.38 L446.38,137.39 L446.80,140.40 L447.22,143.41 L447.64,146.42 L448.06,149.42 L448.48,152.43 L448.90,155.44 L449.32,158.45 L449.74,161.46 L450.16,164.47 L450.58,167.48 L451.00,170.49 L451.42,173.50 L451.84,176.51 L452.25,179.52 L452.67,182.52 L453.09,185.53 L453.51,188.54 L453.93,191.55 L454.35,194.56 L454.76,197.57 L455.18,200.58 L455.60,203.59 L456.01,206.60 L456.43,209.61 L456.85,212.61 L457.26,215.62 L457.68,218.63 L458.09,221.64 L458.51,224.65 L458.92,227.66 L459.34,230.67 L459.75,233.68 L460.16,236.69 L460.58,239.70 L460.99,242.70 L461.40,245.71 L461.81,248.72 L462.22,251.73 L462.63,254.74 L463.04,257.75 L463.45,260.76 L463.86,263.77 L464.27,266.78 L464.68,269.79 L465.09,272.80 L465.49,275.80 L465.90,278.81 L466.31,281.82 L466.71,284.83 L467.12,287.84 L467.52,290.85 L467.92,293.86 L468.33,296.87 L468.73,299.88 L469.13,302.89 L469.53,305.89 L469.93,308.90 L470.33,311.91 L470.73,314.92 L471.13,317.93 L471.52,320.94 L471.92,323.95 L472.32,326.96 L472.71,329.97 L473.11,332.98 L473.50,335.98 L473.89,338.99 L474.28,342.00 L474.68,345.01 L475.07,348.02 L475.45,351.03 L475.84,354.04 L476.23,357.05 L476.62,360.06 L477.00,363.07 L477.39,366.08 L477.77,369.08 L478.15,372.09 L478.53,375.10 L478.91,378.11 L479.28,381.12 L479.66,384.13 L480.02,387.14 L480.39,390.15 L480.75,393.16 L481.11,396.17 L481.46,399.17 L481.81,402.18 L482.15,405.19 L482.49,408.20 L482.82,411.21 L483.14,414.22 L483.46,417.23 L483.77,420.24 L484.08,423.25 L484.38,426.26 L484.67,429.27 L484.95,432.27 L485.23,435.28 L485.50,438.29 L485.75,441.30 L486.00,444.31 L486.24,447.32 L486.47,450.33 L486.70,453.34 L486.91,456.35 L487.11,459.36 L487.30,462.36 L487.48,465.37 L487.64,468.38 L487.80,471.39 L487.94,474.40 L488.08,477.41 L488.19,480.42 L488.30,483.43 L488.39,486.44 L488.47,489.45 L488.54,492.45 L488.59,495.46 L488.63,498.47 L488.66,501.48 L488.66,504.49 L488.66,507.50" fill="none" stroke="#ff00ff" stroke-width="2.1"/>
<path d="M450.35,537.00 L450.31,540.01 L450.26,543.02 L450.19,546.02 L450.11,549.03 L450.01,552.04 L449.89,555.05 L449.75,558.05 L449.59,561.06 L449.41,564.07 L449.20,567.08 L448.98,570.08 L448.73,573.09 L448.45,576.10 L448.15,579.11 L447.83,582.11 L447.47,585.12 L447.09,588.13 L446.68,591.14 L446.24,594.14 L445.77,597.15 L445.26,600.16 L444.73,603.17 L444.16,606.17 L443.56,609.18 L442.92,612.19 L442.24,615.20 L441.53,618.21 L440.78,621.21 L439.99,624.22 L439.16,627.23 L438.29,630.24 L437.38,633.24 L436.43,636.25 L435.44,639.26 L434.41,642.27 L433.33,645.27 L432.21,648.28 L431.05,651.29 L429.84,654.30 L428.60,657.30 L427.31,660.31 L425.98,663.32 L424.60,666.33 L423.18,669.33 L421.72,672.34 L420.22,675.35 L418.67,678.36 L417.07,681.36 L415.44,684.37 L413.76,687.38 L412.03,690.39 L410.26,693.39 L408.45,696.40 L406.59,699.41 L404.70,702.42 L402.77,705.43 L400.80,708.43 L398.79,711.44 L396.75,714.45 L394.68,717.46 L392.58,720.46 L390.44,723.47 L388.28,726.48 L386.09,729.49 L383.87,732.49 L381.62,735.50 L379.35,738.51 L377.05,741.52 L374.73,744.52 L372.38,747.53 L370.00,750.54 L367.61,753.55 L365.19,756.55 L362.74,759.56 L360.28,762.57 L357.79,765.58 L355.29,768.58 L352.76,771.59 L350.22,774.60 L347.66,777.61 L345.08,780.62 L342.48,783.62 L339.86,786.63 L337.23,789.64 L334.59,792.65 L331.93,795.65 L329.25,798.66 L326.56,801.67 L323.86,804.68 L321.15,807.68 L318.42,810.69 L315.69,813.70 L312.94,816.71 L310.19,819.71 L307.42,822.72 L304.65,825.73 L301.87,828.74 L299.08,831.74 L296.29,834.75 L293.49,837.76 L290.69,840.77 L287.88,843.77 L285.06,846.78 L282.24,849.79 L279.42,852.80 L276.59,855.81 L273.76,858.81 L270.92,861.82 L268.08,864.83 L265.23,867.84 L262.38,870.84 L259.53,873.85 L256.67,876.86 L253.81,879.87 L250.94,882.87 L248.07,885.88 L245.19,888.89 L242.31,891.90 L239.43,894.90 L236.54,897.91 L233.65,900.92 L230.76,903.93 L227.86,906.93 L224.95,909.94 L222.05,912.95 L219.14,915.96 L216.22,918.96 L213.30,921.97 L210.38,924.98 L207.45,927.99 L204.52,930.99 L201.59,934.00 L198.65,937.01 L195.72,940.02 L192.77,943.03 L189.82,946.03 L186.87,949.04 L183.92,952.05 L180.96,955.06 L178.00,958.06 L175.04,961.07 L172.07,964.08 L169.10,967.09 L166.13,970.09 L163.16,973.10 L160.18,976.11 L157.19,979.12 L154.21,982.12 L151.22,985.13 L148.23,988.14 L145.24,991.15 L142.24,994.15 L139.24,997.16 L136.24,1000.17 L133.24,1003.18 L130.23,1006.18 L127.22,1009.19 L124.21,1012.20" fill="none" stroke="#00ffff" stroke-width="4.5"/>
<path d="M386.19,8.00 L386.61,11.01 L387.03,14.02 L387.45,17.03 L387.87,20.04 L388.29,23.05 L388.71,26.07 L389.13,29.08 L389.55,32.09 L389.97,35.10 L390.39,38.11 L390.81,41.12 L391.23,44.13 L391.65,47.14 L392.07,50.15 L392.49,53.16 L392.91,56.17 L393.33,59.18 L393.75,62.20 L394.17,65.21 L394.59,68.22 L395.01,71.23 L395.43,74.24 L395.85,77.25 L396.27,80.26 L396.69,83.27 L397.11,86.28 L397.53,89.29 L397.95,92.30 L398.37,95.31 L398.79,98.33 L399.21,101.34 L399.63,104.35 L400.05,107.36 L400.47,110.37 L400.89,113.38 L401.31,116.39 L401.73,119.40 L402.15,122.41 L402.57,125.42 L402.99,128.43 L403.41,131.45 L403.83,134.46 L404.25,137.47 L404.67,140.48 L405.09,143.49 L405.51,146.50 L405.92,149.51 L406.34,152.52 L406.76,155.53 L407.18,158.54 L407.60,161.55 L408.02,164.56 L408.44,167.58 L408.86,170.59 L409.28,173.60 L409.70,176.61 L410.11,179.62 L410.53,182.63 L410.95,185.64 L411.37,188.65 L411.79,191.66 L412.21,194.67 L412.62,197.68 L413.04,200.69 L413.46,203.71 L413.88,206.72 L414.29,209.73 L414.71,212.74 L415.13,215.75 L415.55,218.76 L415.96,221.77 L416.38,224.78 L416.80,227.79 L417.22,230.80 L417.63,233.81 L418.05,236.83 L418.47,239.84 L418.88,242.85 L419.30,245.86 L419.71,248.87 L420.13,251.88 L420.55,254.89 L420.96,257.90 L421.38,260.91 L421.79,263.92 L422.21,266.93 L422.62,269.94 L423.04,272.96 L423.45,275.97 L423.87,278.98 L424.28,281.99 L424.70,285.00 L425.11,288.01 L425.53,291.02 L425.94,294.03 L426.35,297.04 L426.77,300.05 L427.18,303.06 L427.59,306.07 L428.01,309.09 L428.42,312.10 L428.83,315.11 L429.25,318.12 L429.66,321.13 L430.07,324.14 L430.48,327.15 L430.90,330.16 L431.31,333.17 L431.72,336.18 L432.13,339.19 L432.54,342.21 L432.95,345.22 L433.36,348.23 L433.77,351.24 L434.19,354.25 L434.60,357.26 L435.01,360.27 L435.42,363.28 L435.82,366.29 L436.23,369.30 L436.64,372.31 L437.05,375.32 L437.45,378.34 L437.86,381.35 L438.26,384.36 L438.66,387.37 L439.05,390.38 L439.45,393.39 L439.84,396.40 L440.23,399.41 L440.61,402.42 L440.99,405.43 L441.37,408.44 L441.74,411.45 L442.11,414.47 L442.47,417.48 L442.83,420.49 L443.18,423.50 L443.53,426.51 L443.88,429.52 L444.21,432.53 L444.54,435.54 L444.87,438.55 L445.18,441.56 L445.49,444.57 L445.80,447.59 L446.09,450.60 L446.38,453.61 L446.66,456.62 L446.93,459.63 L447.20,462.64 L447.45,465.65 L447.70,468.66 L447.93,471.67 L448.16,474.68 L448.38,477.69 L448.59,480.70 L448.79,483.72 L448.97,486.73 L449.15,489.74 L449.32,492.75 L449.47,495.76 L449.62,498.77 L449.75,501.78 L449.87,504.79 L449.98,507.80 L450.07,510.81 L450.16,513.82 L450.23,516.83 L450.28,519.85 L450.33,522.86 L450.36,525.87 L450.38,528.88 L450.38,531.89 L450.37,534.90" fill="none" stroke="#00ffff" stroke-width="2.1"/>
<path d="M434.54,544.80 L434.51,547.81 L434.46,550.82 L434.40,553.84 L434.31,556.85 L434.21,559.86 L434.09,562.88 L433.95,565.89 L433.78,568.90 L433.59,571.91 L433.38,574.92 L433.15,577.94 L432.89,580.95 L432.60,583.96 L432.29,586.97 L431.94,589.99 L431.57,593.00 L431.17,596.01 L430.74,599.02 L430.28,602.04 L429.78,605.05 L429.25,608.06 L428.69,611.07 L428.09,614.09 L427.46,617.10 L426.79,620.11 L426.08,623.12 L425.33,626.14 L424.54,629.15 L423.71,632.16 L422.84,635.17 L421.93,638.19 L420.98,641.20 L419.99,644.21 L418.96,647.23 L417.89,650.24 L416.78,653.25 L415.63,656.26 L414.43,659.27 L413.20,662.29 L411.93,665.30 L410.62,668.31 L409.27,671.32 L407.88,674.34 L406.46,677.35 L404.99,680.36 L403.48,683.38 L401.94,686.39 L400.35,689.40 L398.73,692.41 L397.07,695.42 L395.37,698.44 L393.64,701.45 L391.86,704.46 L390.05,707.48 L388.20,710.49 L386.31,713.50 L384.39,716.51 L382.42,719.52 L380.42,722.54 L378.38,725.55 L376.31,728.56 L374.20,731.58 L372.06,734.59 L369.89,737.60 L367.68,740.61 L365.44,743.62 L363.17,746.64 L360.87,749.65 L358.54,752.66 L356.18,755.67 L353.79,758.69 L351.38,761.70 L348.94,764.71 L346.48,767.73 L343.99,770.74 L341.48,773.75 L338.95,776.76 L336.39,779.77 L333.81,782.79 L331.22,785.80 L328.60,788.81 L325.96,791.83 L323.31,794.84 L320.64,797.85 L317.96,800.86 L315.26,803.88 L312.54,806.89 L309.81,809.90 L307.07,812.91 L304.32,815.92 L301.55,818.94 L298.78,821.95 L295.99,824.96 L293.20,827.98 L290.40,830.99 L287.59,834.00 L284.77,837.01 L281.95,840.03 L279.13,843.04 L276.30,846.05 L273.47,849.06 L270.63,852.08 L267.79,855.09 L264.94,858.10 L262.09,861.11 L259.24,864.12 L256.38,867.14 L253.51,870.15 L250.65,873.16 L247.78,876.17 L244.90,879.19 L242.02,882.20 L239.14,885.21 L236.25,888.23 L233.36,891.24 L230.47,894.25 L227.57,897.26 L224.67,900.28 L221.76,903.29 L218.85,906.30 L215.94,909.31 L213.03,912.33 L210.11,915.34 L207.19,918.35 L204.26,921.36 L201.33,924.38 L198.40,927.39 L195.47,930.40 L192.53,933.41 L189.59,936.42 L186.65,939.44 L183.70,942.45 L180.75,945.46 L177.80,948.48 L174.84,951.49 L171.89,954.50 L168.93,957.51 L165.96,960.53 L163.00,963.54 L160.03,966.55 L157.06,969.56 L154.09,972.58 L151.11,975.59 L148.14,978.60 L145.16,981.61 L142.18,984.62 L139.19,987.64 L136.21,990.65 L133.22,993.66 L130.23,996.68 L127.24,999.69 L124.25,1002.70" fill="none" stroke="#000000" stroke-width="4.5"/>
<path d="M368.75,8.00 L369.20,11.02 L369.65,14.03 L370.10,17.05 L370.55,20.07 L371.00,23.08 L371.45,26.10 L371.89,29.11 L372.34,32.13 L372.78,35.15 L373.23,38.16 L373.67,41.18 L374.11,44.20 L374.56,47.21 L375.00,50.23 L375.44,53.25 L375.88,56.26 L376.32,59.28 L376.76,62.29 L377.19,65.31 L377.63,68.33 L378.07,71.34 L378.50,74.36 L378.94,77.38 L379.37,80.39 L379.81,83.41 L380.24,86.43 L380.67,89.44 L381.11,92.46 L381.54,95.48 L381.97,98.49 L382.40,101.51 L382.83,104.52 L383.26,107.54 L383.69,110.56 L384.11,113.57 L384.54,116.59 L384.97,119.61 L385.40,122.62 L385.82,125.64 L386.25,128.66 L386.67,131.67 L387.10,134.69 L387.52,137.70 L387.95,140.72 L388.37,143.74 L388.79,146.75 L389.22,149.77 L389.64,152.79 L390.06,155.80 L390.48,158.82 L390.90,161.84 L391.32,164.85 L391.74,167.87 L392.16,170.88 L392.58,173.90 L393.00,176.92 L393.42,179.93 L393.84,182.95 L394.25,185.97 L394.67,188.98 L395.09,192.00 L395.51,195.02 L395.92,198.03 L396.34,201.05 L396.76,204.06 L397.17,207.08 L397.59,210.10 L398.00,213.11 L398.42,216.13 L398.83,219.15 L399.25,222.16 L399.66,225.18 L400.08,228.20 L400.49,231.21 L400.90,234.23 L401.32,237.25 L401.73,240.26 L402.14,243.28 L402.56,246.29 L402.97,249.31 L403.38,252.33 L403.79,255.34 L404.21,258.36 L404.62,261.38 L405.03,264.39 L405.44,267.41 L405.85,270.43 L406.27,273.44 L406.68,276.46 L407.09,279.47 L407.50,282.49 L407.91,285.51 L408.32,288.52 L408.73,291.54 L409.15,294.56 L409.56,297.57 L409.97,300.59 L410.38,303.61 L410.79,306.62 L411.20,309.64 L411.61,312.65 L412.02,315.67 L412.44,318.69 L412.85,321.70 L413.26,324.72 L413.67,327.74 L414.08,330.75 L414.49,333.77 L414.90,336.79 L415.32,339.80 L415.73,342.82 L416.14,345.84 L416.55,348.85 L416.96,351.87 L417.38,354.88 L417.79,357.90 L418.20,360.92 L418.61,363.93 L419.03,366.95 L419.44,369.97 L419.85,372.98 L420.26,376.00 L420.67,379.02 L421.08,382.03 L421.48,385.05 L421.89,388.06 L422.29,391.08 L422.69,394.10 L423.09,397.11 L423.48,400.13 L423.87,403.15 L424.26,406.16 L424.65,409.18 L425.03,412.20 L425.41,415.21 L425.78,418.23 L426.15,421.24 L426.51,424.26 L426.87,427.28 L427.23,430.29 L427.58,433.31 L427.92,436.33 L428.26,439.34 L428.59,442.36 L428.91,445.38 L429.23,448.39 L429.54,451.41 L429.85,454.42 L430.15,457.44 L430.44,460.46 L430.72,463.47 L430.99,466.49 L431.26,469.51 L431.51,472.52 L431.76,475.54 L432.00,478.56 L432.23,481.57 L432.46,484.59 L432.67,487.61 L432.87,490.62 L433.06,493.64 L433.24,496.65 L433.41,499.67 L433.57,502.69 L433.72,505.70 L433.86,508.72 L433.98,511.74 L434.10,514.75 L434.20,517.77 L434.29,520.79 L434.37,523.80 L434.43,526.82 L434.48,529.83 L434.52,532.85 L434.55,535.87 L434.56,538.88 L434.56,541.90" fill="none" stroke="#000000" stroke-width="2.1"/>
</g>
<path d="M699.65,832.65H777.65" stroke="#ff0000" stroke-width="4.5" fill="none"/>
<g transform="translate(619,817.3) scale(0.030075)" style="color:#ff0000" fill="none" stroke="currentColor" stroke-linecap="round" stroke-linejoin="round"><path d="M255,110 C215,100 175,125 175,165 C175,200 205,228 245,236" stroke-width="50"/><path d="M238,240 C290,222 335,160 405,142 C440,135 445,172 418,188 C370,214 305,212 252,246 Z" fill="currentColor" stroke-width="26"/><path d="M243,238 C205,275 200,355 255,405" stroke-width="50"/><path d="M250,408 C300,388 380,366 440,371 C470,376 470,414 440,424 C380,436 310,420 256,422 Z" fill="currentColor" stroke-width="26"/><path d="M255,408 C200,455 150,540 145,620" stroke-width="48"/><path d="M145,620 C142,665 160,710 195,740" stroke-width="64"/><path d="M195,740 C225,765 260,772 300,772 L400,772 C440,772 470,780 490,805" stroke-width="80"/><path d="M490,805 C505,825 512,845 512,870 C512,910 490,950 460,975" stroke-width="54"/><path d="M460,975 C435,995 410,1002 385,1002" stroke-width="46"/><ellipse cx="350" cy="962" rx="48" ry="38" fill="currentColor" stroke="none" transform="rotate(25 350 962)"/></g>
<path d="M636.3,832h13.9M636.3,837.3h13.9" stroke="#ff0000" stroke-width="1.8" fill="none"/>
<text transform="translate(683,842.3) scale(1,1.047)" text-anchor="end" style="fill:#ff0000">0°</text>
<path d="M699.65,868.75H777.65" stroke="#00ff00" stroke-width="4.5" fill="none"/>
<g transform="translate(619,853.4) scale(0.030075)" style="color:#00ff00" fill="none" stroke="currentColor" stroke-linecap="round" stroke-linejoin="round"><path d="M255,110 C215,100 175,125 175,165 C175,200 205,228 245,236" stroke-width="50"/><path d="M238,240 C290,222 335,160 405,142 C440,135 445,172 418,188 C370,214 305,212 252,246 Z" fill="currentColor" stroke-width="26"/><path d="M243,238 C205,275 200,355 255,405" stroke-width="50"/><path d="M250,408 C300,388 380,366 440,371 C470,376 470,414 440,424 C380,436 310,420 256,422 Z" fill="currentColor" stroke-width="26"/><path d="M255,408 C200,455 150,540 145,620" stroke-width="48"/><path d="M145,620 C142,665 160,710 195,740" stroke-width="64"/><path d="M195,740 C225,765 260,772 300,772 L400,772 C440,772 470,780 490,805" stroke-width="80"/><path d="M490,805 C505,825 512,845 512,870 C512,910 490,950 460,975" stroke-width="54"/><path d="M460,975 C435,995 410,1002 385,1002" stroke-width="46"/><ellipse cx="350" cy="962" rx="48" ry="38" fill="currentColor" stroke="none" transform="rotate(25 350 962)"/></g>
<path d="M636.3,868.1h13.9M636.3,873.4h13.9" stroke="#00ff00" stroke-width="1.8" fill="none"/>
<text transform="translate(683,878.4) scale(1,1.047)" text-anchor="end" style="fill:#00ff00">5°</text>
<path d="M699.65,904.95H777.65" stroke="#0000ff" stroke-width="4.5" fill="none"/>
<g transform="translate(612,889.6) scale(0.030075)" style="color:#0000ff" fill="none" stroke="currentColor" stroke-linecap="round" stroke-linejoin="round"><path d="M255,110 C215,100 175,125 175,165 C175,200 205,228 245,236" stroke-width="50"/><path d="M238,240 C290,222 335,160 405,142 C440,135 445,172 418,188 C370,214 305,212 252,246 Z" fill="currentColor" stroke-width="26"/><path d="M243,238 C205,275 200,355 255,405" stroke-width="50"/><path d="M250,408 C300,388 380,366 440,371 C470,376 470,414 440,424 C380,436 310,420 256,422 Z" fill="currentColor" stroke-width="26"/><path d="M255,408 C200,455 150,540 145,620" stroke-width="48"/><path d="M145,620 C142,665 160,710 195,740" stroke-width="64"/><path d="M195,740 C225,765 260,772 300,772 L400,772 C440,772 470,780 490,805" stroke-width="80"/><path d="M490,805 C505,825 512,845 512,870 C512,910 490,950 460,975" stroke-width="54"/><path d="M460,975 C435,995 410,1002 385,1002" stroke-width="46"/><ellipse cx="350" cy="962" rx="48" ry="38" fill="currentColor" stroke="none" transform="rotate(25 350 962)"/></g>
<path d="M629.3,904.3h13.9M629.3,909.6h13.9" stroke="#0000ff" stroke-width="1.8" fill="none"/>
<text transform="translate(683,914.6) scale(1,1.047)" text-anchor="end" style="fill:#0000ff">15°</text>
<path d="M699.65,941.05H777.65" stroke="#ff00ff" stroke-width="4.5" fill="none"/>
<g transform="translate(612,925.7) scale(0.030075)" style="color:#ff00ff" fill="none" stroke="currentColor" stroke-linecap="round" stroke-linejoin="round"><path d="M255,110 C215,100 175,125 175,165 C175,200 205,228 245,236" stroke-width="50"/><path d="M238,240 C290,222 335,160 405,142 C440,135 445,172 418,188 C370,214 305,212 252,246 Z" fill="currentColor" stroke-width="26"/><path d="M243,238 C205,275 200,355 255,405" stroke-width="50"/><path d="M250,408 C300,388 380,366 440,371 C470,376 470,414 440,424 C380,436 310,420 256,422 Z" fill="currentColor" stroke-width="26"/><path d="M255,408 C200,455 150,540 145,620" stroke-width="48"/><path d="M145,620 C142,665 160,710 195,740" stroke-width="64"/><path d="M195,740 C225,765 260,772 300,772 L400,772 C440,772 470,780 490,805" stroke-width="80"/><path d="M490,805 C505,825 512,845 512,870 C512,910 490,950 460,975" stroke-width="54"/><path d="M460,975 C435,995 410,1002 385,1002" stroke-width="46"/><ellipse cx="350" cy="962" rx="48" ry="38" fill="currentColor" stroke="none" transform="rotate(25 350 962)"/></g>
<path d="M629.3,940.4h13.9M629.3,945.7h13.9" stroke="#ff00ff" stroke-width="1.8" fill="none"/>
<text transform="translate(683,950.7) scale(1,1.047)" text-anchor="end" style="fill:#ff00ff">30°</text>
<path d="M699.65,977.25H777.65" stroke="#00ffff" stroke-width="4.5" fill="none"/>
<g transform="translate(612,961.9) scale(0.030075)" style="color:#00ffff" fill="none" stroke="currentColor" stroke-linecap="round" stroke-linejoin="round"><path d="M255,110 C215,100 175,125 175,165 C175,200 205,228 245,236" stroke-width="50"/><path d="M238,240 C290,222 335,160 405,142 C440,135 445,172 418,188 C370,214 305,212 252,246 Z" fill="currentColor" stroke-width="26"/><path d="M243,238 C205,275 200,355 255,405" stroke-width="50"/><path d="M250,408 C300,388 380,366 440,371 C470,376 470,414 440,424 C380,436 310,420 256,422 Z" fill="currentColor" stroke-width="26"/><path d="M255,408 C200,455 150,540 145,620" stroke-width="48"/><path d="M145,620 C142,665 160,710 195,740" stroke-width="64"/><path d="M195,740 C225,765 260,772 300,772 L400,772 C440,772 470,780 490,805" stroke-width="80"/><path d="M490,805 C505,825 512,845 512,870 C512,910 490,950 460,975" stroke-width="54"/><path d="M460,975 C435,995 410,1002 385,1002" stroke-width="46"/><ellipse cx="350" cy="962" rx="48" ry="38" fill="currentColor" stroke="none" transform="rotate(25 350 962)"/></g>
<path d="M629.3,976.6h13.9M629.3,981.9h13.9" stroke="#00ffff" stroke-width="1.8" fill="none"/>
<text transform="translate(683,986.9) scale(1,1.047)" text-anchor="end" style="fill:#00ffff">55°</text>
<path d="M699.65,1013.35H777.65" stroke="#000000" stroke-width="4.5" fill="none"/>
<g transform="translate(612,998) scale(0.030075)" style="color:#000000" fill="none" stroke="currentColor" stroke-linecap="round" stroke-linejoin="round"><path d="M255,110 C215,100 175,125 175,165 C175,200 205,228 245,236" stroke-width="50"/><path d="M238,240 C290,222 335,160 405,142 C440,135 445,172 418,188 C370,214 305,212 252,246 Z" fill="currentColor" stroke-width="26"/><path d="M243,238 C205,275 200,355 255,405" stroke-width="50"/><path d="M250,408 C300,388 380,366 440,371 C470,376 470,414 440,424 C380,436 310,420 256,422 Z" fill="currentColor" stroke-width="26"/><path d="M255,408 C200,455 150,540 145,620" stroke-width="48"/><path d="M145,620 C142,665 160,710 195,740" stroke-width="64"/><path d="M195,740 C225,765 260,772 300,772 L400,772 C440,772 470,780 490,805" stroke-width="80"/><path d="M490,805 C505,825 512,845 512,870 C512,910 490,950 460,975" stroke-width="54"/><path d="M460,975 C435,995 410,1002 385,1002" stroke-width="46"/><ellipse cx="350" cy="962" rx="48" ry="38" fill="currentColor" stroke="none" transform="rotate(25 350 962)"/></g>
<path d="M629.3,1012.7h13.9M629.3,1018h13.9" stroke="#000000" stroke-width="1.8" fill="none"/>
<text transform="translate(683,1023) scale(1,1.047)" text-anchor="end" style="fill:#000000">90°</text>
<text transform="translate(108.3,22.3) scale(1,1.047)" text-anchor="end">100</text>
<text transform="translate(108.3,365.7) scale(1,1.047)" text-anchor="end">10</text>
<text transform="translate(107.6,709.1) scale(1,1.047)" text-anchor="end">1</text>
<text transform="translate(107.6,1052.5) scale(1,1.047)" text-anchor="end">0.1</text>
<text transform="translate(127.5,1079.7) scale(1,1.047)" text-anchor="middle">0.1</text>
<text transform="translate(470.9,1079.7) scale(1,1.047)" text-anchor="middle">1</text>
<text transform="translate(814.3,1079.7) scale(1,1.047)" text-anchor="middle">10</text>
<text transform="translate(450,1119.5) scale(1,1.047)" class="ax">x<tspan dy="8.6" style="font-size:25.6px">A</tspan></text>
<text transform="translate(18.1,551.6) rotate(-90) translate(0,0) scale(1,1.047)" class="ax">x<tspan dy="9.6" style="font-size:25.6px">em</tspan></text>
</svg>
</body>
</html>
